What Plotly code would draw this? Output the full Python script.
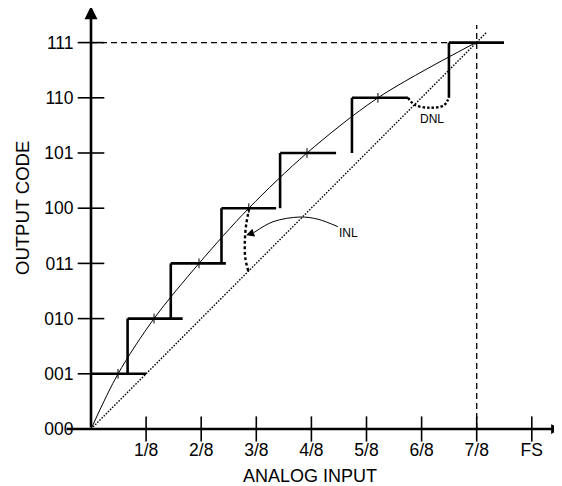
import plotly.graph_objects as go

# ---------------- data ----------------
codes = [1, 2, 3, 4, 5, 6, 7]
code_labels = ["000", "001", "010", "011", "100", "101", "110", "111"]
x_tick_vals = [1/8, 2/8, 3/8, 4/8, 5/8, 6/8, 7/8, 1.0]
x_tick_text = ["1/8", "2/8", "3/8", "4/8", "5/8", "6/8", "7/8", "FS"]

# actual ADC transfer steps: where each code starts and where its drawn tread ends
step_start_x = [0.0, 0.083, 0.181, 0.296, 0.429, 0.592, 0.812]
step_end_x = [0.125, 0.208, 0.306, 0.420, 0.556, 0.719, 0.937]

# bowed (non-linear) transfer curve, crossing points at each code level
curve_x = [0.0, 0.0613, 0.143, 0.245, 0.358, 0.490, 0.651, 0.873]
curve_y = [0, 1, 2, 3, 4, 5, 6, 7]

# ideal straight transfer line
ideal_x = [0.0, 0.898]
ideal_y = [0.0, 7.19]

# INL bracket and pointer arrow
inl_arc_x = [0.359, 0.352, 0.349, 0.350, 0.357]
inl_arc_y = [4.0, 3.7, 3.4, 3.1, 2.86]
inl_ptr_x = [0.560, 0.515, 0.474, 0.413, 0.37]
inl_ptr_y = [3.665, 3.80, 3.84, 3.755, 3.56]
inl_tip = (0.352, 3.51)
inl_label = (0.585, 3.545)

# DNL bracket
dnl_arc_x = [0.719, 0.735, 0.769, 0.800, 0.810]
dnl_arc_y = [6.0, 5.87, 5.82, 5.86, 5.97]
dnl_label = (0.774, 5.62)

full_scale_code = 7
seven_eighths = 7/8

# ---------------- geometry of the page ----------------
W, H = 562, 486
PAGE = 8                         # page body margin in the browser
X0_PX, Y0_PX = 91 - PAGE, 429 - PAGE   # origin in figure pixels
PX_PER_X, PX_PER_CODE = 440.8, 55.2
x_range = [-X0_PX / PX_PER_X, (W - X0_PX) / PX_PER_X]
y_range = [-(H - Y0_PX) / PX_PER_CODE, Y0_PX / PX_PER_CODE]

FONT = "Liberation Sans, Arial, Helvetica, sans-serif"
BLACK = "#000000"

fig = go.Figure()

# ideal line (fine dotted)
fig.add_trace(go.Scatter(x=ideal_x, y=ideal_y, mode="lines",
                         line=dict(color=BLACK, width=1.4, dash="1.5px,1.5px"),
                         hoverinfo="skip"))

# bowed curve
fig.add_trace(go.Scatter(x=curve_x, y=curve_y, mode="lines",
                         line=dict(color=BLACK, width=1.0, shape="spline", smoothing=0.9),
                         hoverinfo="skip"))

# small marks where curve crosses each step
fig.add_trace(go.Scatter(x=curve_x[1:7], y=curve_y[1:7], mode="markers",
                         marker=dict(symbol="line-ns", size=7,
                                     line=dict(color=BLACK, width=1)),
                         hoverinfo="skip"))

# dashed reference lines at 7/8 and code 111
fig.add_trace(go.Scatter(x=[0, seven_eighths], y=[full_scale_code, full_scale_code],
                         mode="lines", line=dict(color=BLACK, width=1.3, dash="6px,4px"),
                         hoverinfo="skip"))
fig.add_trace(go.Scatter(x=[seven_eighths, seven_eighths], y=[0, 7.32],
                         mode="lines", line=dict(color=BLACK, width=1.3, dash="6px,4px"),
                         hoverinfo="skip"))

# staircase
sx, sy = [], []
for i, c in enumerate(codes):
    if i > 0:
        sx += [step_start_x[i], step_start_x[i], None]
        sy += [c - 1, c, None]
    sx += [step_start_x[i], step_end_x[i], None]
    sy += [c, c, None]
fig.add_trace(go.Scatter(x=sx, y=sy, mode="lines",
                         line=dict(color=BLACK, width=2.6), hoverinfo="skip"))

# INL bracket (bold dotted) and pointer curve
fig.add_trace(go.Scatter(x=inl_arc_x, y=inl_arc_y, mode="lines",
                         line=dict(color=BLACK, width=2.4, dash="3px,2.5px",
                                   shape="spline"), hoverinfo="skip"))
fig.add_trace(go.Scatter(x=inl_ptr_x, y=inl_ptr_y, mode="lines",
                         line=dict(color=BLACK, width=1.0, shape="spline"),
                         hoverinfo="skip"))
# DNL bracket
fig.add_trace(go.Scatter(x=dnl_arc_x, y=dnl_arc_y, mode="lines",
                         line=dict(color=BLACK, width=2.4, dash="2.5px,2px",
                                   shape="spline"), hoverinfo="skip"))

# crossing tick marks on both axes
fig.add_trace(go.Scatter(x=x_tick_vals, y=[0] * len(x_tick_vals), mode="markers",
                         marker=dict(symbol="line-ns", size=18,
                                     line=dict(color=BLACK, width=1.6)),
                         hoverinfo="skip", cliponaxis=False))
fig.add_trace(go.Scatter(x=[0] * 8, y=list(range(8)), mode="markers",
                         marker=dict(symbol="line-ew", size=19,
                                     line=dict(color=BLACK, width=1.6)),
                         hoverinfo="skip", cliponaxis=False))

annotations = [
    # y axis with arrow
    dict(x=0, y=7.66, ax=0, ay=0, xref="x", yref="y", axref="x", ayref="y",
         text="", showarrow=True, arrowhead=2, arrowsize=1.0, arrowwidth=2.6,
         arrowcolor=BLACK),
    # x axis with arrow
    dict(x=1.066, y=0, ax=-0.059, ay=0, xref="x", yref="y", axref="x", ayref="y",
         text="", showarrow=True, arrowhead=2, arrowsize=0.75, arrowwidth=2.6,
         arrowcolor=BLACK),
    # INL arrowhead
    dict(x=inl_tip[0], y=inl_tip[1], ax=inl_ptr_x[-1], ay=inl_ptr_y[-1],
         xref="x", yref="y", axref="x", ayref="y", text="", showarrow=True,
         arrowhead=2, arrowsize=1.6, arrowwidth=1.0, arrowcolor=BLACK),
    dict(x=inl_label[0], y=inl_label[1], xref="x", yref="y", text="INL",
         showarrow=False, xanchor="center", yanchor="middle",
         font=dict(family=FONT, size=12, color=BLACK)),
    dict(x=dnl_label[0], y=dnl_label[1], xref="x", yref="y", text="DNL",
         showarrow=False, xanchor="center", yanchor="middle",
         font=dict(family=FONT, size=12, color=BLACK)),
    # axis titles
    dict(x=(22 - PAGE) / W, y=1 - (208 - PAGE) / H, xref="paper", yref="paper",
         text="OUTPUT CODE", textangle=-90, showarrow=False,
         xanchor="center", yanchor="middle",
         font=dict(family=FONT, size=18.5, color=BLACK)),
    dict(x=(310 - PAGE) / W, y=1 - (476 - PAGE) / H, xref="paper", yref="paper",
         text="ANALOG INPUT", showarrow=False, xanchor="center", yanchor="middle",
         font=dict(family=FONT, size=18, color=BLACK)),
]

fig.update_layout(
    width=W, height=H,
    margin=dict(l=0, r=0, t=0, b=0),
    paper_bgcolor="white", plot_bgcolor="white",
    showlegend=False,
    annotations=annotations,
    xaxis=dict(range=x_range, domain=[0, 1], anchor="free", position=1 - Y0_PX / H,
               showgrid=False, zeroline=False, showline=False, automargin=False,
               tickvals=x_tick_vals, ticktext=x_tick_text, ticks="outside",
               ticklen=5, tickcolor="rgba(0,0,0,0)",
               tickfont=dict(family=FONT, size=17.5, color=BLACK), fixedrange=True),
    yaxis=dict(range=y_range, domain=[0, 1], anchor="free", position=X0_PX / W,
               showgrid=False, zeroline=False, showline=False, automargin=False,
               tickvals=list(range(8)), ticktext=code_labels, ticks="outside",
               ticklen=14, tickcolor="rgba(0,0,0,0)",
               tickfont=dict(family=FONT, size=17.5, color=BLACK), fixedrange=True),
)

fig.write_html("out.html")
